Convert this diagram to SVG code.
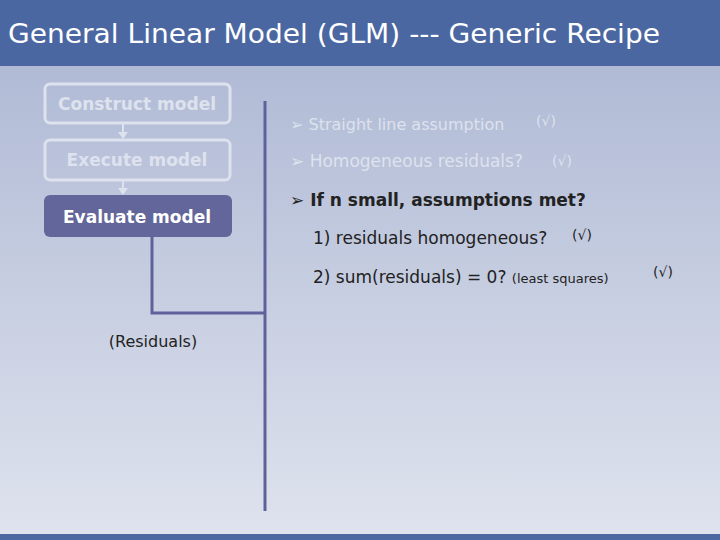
<svg xmlns="http://www.w3.org/2000/svg" width="720" height="540" viewBox="0 0 720 540">
<defs>
<linearGradient id="bg" x1="0" y1="0" x2="0" y2="1"><stop offset="0" stop-color="#aab5d2"/><stop offset="1" stop-color="#dfe3ee"/></linearGradient>
</defs>
<style>
.t{font-family:"DejaVu Sans",sans-serif}
.faded{fill:#dde2ee}
.box{fill:none;stroke:#dde2ee;stroke-width:3}
.ln{stroke:#5f629a;stroke-width:3;fill:none}
.ar{fill:#dde2ee}
.s{fill:#222}
</style>
<rect width="720" height="540" fill="url(#bg)"/>
<rect width="720" height="66" fill="#4b67a2"/>
<rect y="534" width="720" height="6" fill="#4b67a2"/>
<text class="t" x="8" y="43" font-size="26" fill="#fff" textLength="652" lengthAdjust="spacingAndGlyphs">General Linear Model (GLM) --- Generic Recipe</text>
<g id="n1"><rect class="box" x="45" y="84" width="185" height="39" rx="5"/><text class="t faded" x="137" y="110" font-size="17" font-weight="bold" text-anchor="middle">Construct model</text></g>
<g id="n2"><rect class="box" x="45" y="140" width="185" height="40" rx="5"/><text class="t faded" x="137" y="166" font-size="17" font-weight="bold" text-anchor="middle">Execute model</text></g>
<g id="n3"><rect x="44" y="195" width="188" height="42" rx="6" fill="#63669a"/><text class="t" x="137" y="223" font-size="17" font-weight="bold" fill="#fff" text-anchor="middle">Evaluate model</text></g>
<g id="connectors">
<line x1="123" y1="124" x2="123" y2="133" stroke="#dde2ee" stroke-width="2"/>
<polygon class="ar" points="118,132 128,132 123,139"/>
<line x1="123" y1="181" x2="123" y2="189" stroke="#dde2ee" stroke-width="2"/>
<polygon class="ar" points="118,188 128,188 123,195"/>
<polyline class="ln" points="152,237 152,313 265,313"/>
<line class="ln" x1="265" y1="101" x2="265" y2="511"/>
</g>
<text class="t faded" x="290" y="130" font-size="16">➢ Straight line assumption</text>
<text class="t faded" x="536" y="126" font-size="14">(√)</text>
<text class="t faded" x="290" y="167" font-size="17">➢ Homogeneous residuals?</text>
<text class="t faded" x="552" y="166" font-size="14">(√)</text>
<text class="t s" x="290" y="206" font-size="17" font-weight="bold">➢ If n small, assumptions met?</text>
<text class="t s" x="313" y="244" font-size="17">1) residuals homogeneous?</text>
<text class="t s" x="572" y="240" font-size="14">(√)</text>
<text class="t s" x="313" y="283" font-size="17">2) sum(residuals) = 0? <tspan font-size="13">(least squares)</tspan></text>
<text class="t s" x="653" y="277" font-size="14">(√)</text>
<text class="t s" x="153" y="347" font-size="16" text-anchor="middle">(Residuals)</text>
</svg>
